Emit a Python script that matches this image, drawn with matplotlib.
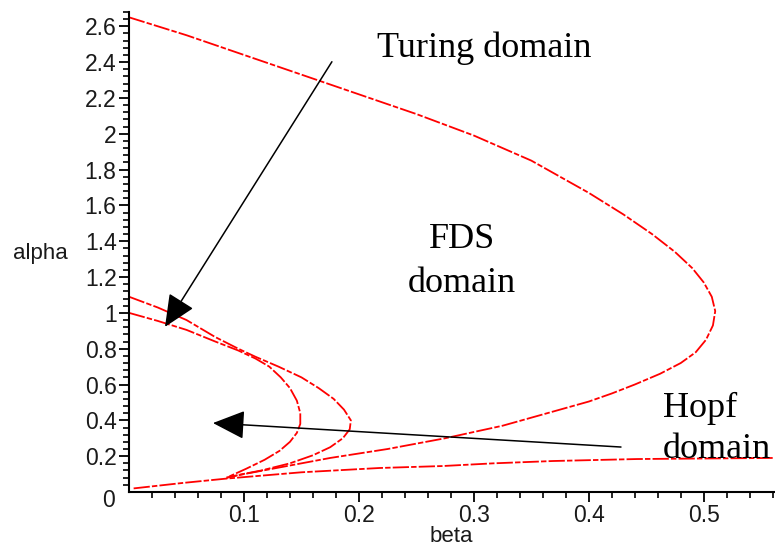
import matplotlib
matplotlib.use("Agg")
import matplotlib.pyplot as plt
import numpy as np

# --- curve data (beta, alpha) ---
fds_beta = [0.0, 0.05, 0.10, 0.15, 0.20, 0.25, 0.30, 0.35, 0.40, 0.43, 0.455, 0.475, 0.49, 0.50,
            0.507, 0.51, 0.508, 0.502, 0.493, 0.48, 0.462, 0.44, 0.42, 0.40, 0.375, 0.35, 0.325,
            0.30, 0.275, 0.25, 0.225, 0.20, 0.175, 0.15, 0.125, 0.10, 0.085]
fds_alpha = [2.65, 2.55, 2.44, 2.33, 2.22, 2.11, 1.99, 1.85, 1.67, 1.55, 1.44, 1.34, 1.25, 1.17,
             1.09, 1.01, 0.93, 0.85, 0.78, 0.72, 0.66, 0.60, 0.55, 0.505, 0.46, 0.415, 0.37,
             0.335, 0.30, 0.27, 0.24, 0.215, 0.19, 0.16, 0.13, 0.10, 0.08]

turA_beta = [0.0, 0.025, 0.05, 0.075, 0.095, 0.11, 0.122, 0.132, 0.14, 0.146, 0.149, 0.149,
             0.146, 0.14, 0.131, 0.118, 0.102, 0.09, 0.085]
turA_alpha = [1.0, 0.955, 0.905, 0.84, 0.79, 0.745, 0.70, 0.64, 0.58, 0.51, 0.44, 0.38,
              0.33, 0.28, 0.23, 0.18, 0.13, 0.095, 0.08]

turB_beta = [0.0, 0.025, 0.05, 0.075, 0.095, 0.11, 0.13, 0.15, 0.165, 0.178, 0.187, 0.193,
             0.192, 0.186, 0.175, 0.16, 0.14, 0.115, 0.095, 0.085]
turB_alpha = [1.09, 1.03, 0.96, 0.865, 0.80, 0.755, 0.70, 0.64, 0.58, 0.52, 0.46, 0.40,
              0.35, 0.30, 0.25, 0.205, 0.16, 0.12, 0.095, 0.08]

hopf_beta = [0.004, 0.046, 0.085, 0.15, 0.218, 0.273, 0.317, 0.369, 0.442, 0.56]
hopf_alpha = [0.02, 0.05, 0.075, 0.11, 0.134, 0.145, 0.16, 0.173, 0.184, 0.19]

x_ticks = [0.1, 0.2, 0.3, 0.4, 0.5]
x_labels = ["0.1", "0.2", "0.3", "0.4", "0.5"]
y_ticks = [0.2, 0.4, 0.6, 0.8, 1.0, 1.2, 1.4, 1.6, 1.8, 2.0, 2.2, 2.4, 2.6]
y_labels = ["0.2", "0.4", "0.6", "0.8", "1", "1.2", "1.4", "1.6", "1.8", "2", "2.2", "2.4", "2.6"]

fig = plt.figure(figsize=(7.75, 5.48), dpi=100)
ax = fig.add_axes([0.1665, 0.1022, 0.8335, 0.876])

red_style = dict(color="red", lw=1.3, ls=(0, (9, 1.2, 3, 1.2)))
ax.plot(fds_beta, fds_alpha, **red_style)
ax.plot(turA_beta, turA_alpha, **red_style)
ax.plot(turB_beta, turB_alpha, **red_style)
ax.plot(hopf_beta, hopf_alpha, **red_style)

ax.set_xlim(0, 0.562)
ax.set_ylim(0, 2.68)
for s in ["top", "right"]:
    ax.spines[s].set_visible(False)
for s in ["left", "bottom"]:
    ax.spines[s].set_linewidth(1.5)

ax.set_xticks(x_ticks)
ax.set_xticklabels(x_labels)
ax.set_yticks(y_ticks)
ax.set_yticklabels(y_labels)
ax.set_xticks(np.arange(0.02, 0.562, 0.02), minor=True)
ax.set_yticks(np.arange(0.04, 2.69, 0.04), minor=True)
ax.tick_params(which="major", length=7, width=1.3, labelsize=16.5, pad=2)
ax.tick_params(which="minor", length=4, width=1.2)
for lab in ax.get_xticklabels() + ax.get_yticklabels():
    lab.set_family("Liberation Sans")
    lab.set_color("#1a1a1a")

# origin label sits at the corner, Maple-style
ax.text(-0.012, -0.045, "0", transform=ax.transData, ha="right", va="center",
        fontsize=16.5, family="Liberation Sans", color="#1a1a1a")

fig.text(13 / 775, 1 - 253 / 548, "alpha", ha="left", va="center",
         fontsize=16, family="Liberation Sans", color="#1a1a1a")
fig.text(451 / 775, 1 - 537 / 548, "beta", ha="center", va="center",
         fontsize=16, family="Liberation Sans", color="#1a1a1a")

# annotations
serif = dict(family="Liberation Serif", fontsize=26, color="black")
fig.text(377 / 775, 1 - 57 / 548, "Turing domain", ha="left", va="baseline", **serif)
fig.text(462 / 775, 1 - 248 / 548, "FDS", ha="center", va="baseline", **serif)
fig.text(462 / 775, 1 - 292 / 548, "domain", ha="center", va="baseline", **serif)
fig.text(663 / 775, 1 - 417 / 548, "Hopf", ha="left", va="baseline", **serif)
fig.text(663 / 775, 1 - 458 / 548, "domain", ha="left", va="baseline", **serif)

arrow = dict(arrowstyle="-|>,head_length=1.0,head_width=0.45", color="black", lw=1.1,
             mutation_scale=20, shrinkA=0, shrinkB=0)
ax.annotate("", xy=(0.0313, 0.922), xytext=(0.1765, 2.402), arrowprops=arrow, annotation_clip=False)
ax.annotate("", xy=(0.073, 0.385), xytext=(0.428, 0.251), arrowprops=arrow, annotation_clip=False)

plt.savefig("out.png", dpi=100)
plt.close()
